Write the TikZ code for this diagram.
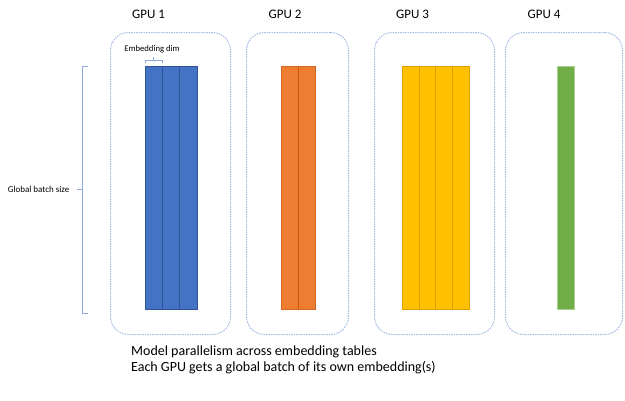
\documentclass[tikz,border=0pt]{standalone}
\usepackage{fontspec}
\setmainfont{Carlito}
\definecolor{dashblue}{HTML}{A4BCE4}
\definecolor{cblue}{HTML}{4472C4}
\definecolor{dblue}{HTML}{2F5597}
\definecolor{corange}{HTML}{ED7D31}
\definecolor{dorange}{HTML}{C55A11}
\definecolor{cyellow}{HTML}{FFC000}
\definecolor{dyellow}{HTML}{D9A000}
\definecolor{cgreen}{HTML}{70AD47}
\definecolor{dgreen}{HTML}{A9D18E}
\definecolor{bracecol}{HTML}{8FAADC}
\begin{document}
\begin{tikzpicture}[x=1pt,y=-1pt,
  gpubox/.style={draw=dashblue, line width=1pt, dash pattern=on 1.5pt off 1pt, rounded corners=18pt, inner sep=0pt, anchor=north west},
  col/.style={inner sep=0pt, anchor=north west, minimum width=#1, minimum height=243pt},
  gpulabel/.style={font=\fontsize{13}{15}\selectfont, inner sep=0pt},
  small/.style={font=\fontsize{9}{10}\selectfont, inner sep=0pt},
  bracestyle/.style={draw=bracecol, line width=0.8pt}]
\useasboundingbox (0,0) rectangle (625,400);
% GPU boxes
\node[gpubox, minimum width=120pt, minimum height=302pt] (b1) at (110,32) {};
\node[gpubox, minimum width=102pt, minimum height=302pt] (b2) at (246,32) {};
\node[gpubox, minimum width=120pt, minimum height=302pt] (b3) at (374,32) {};
\node[gpubox, minimum width=117pt, minimum height=302pt] (b4) at (505,32) {};
% labels
\node[gpulabel] (l1) at (148.5,14) {GPU 1};
\node[gpulabel] (l2) at (285,14) {GPU 2};
\node[gpulabel] (l3) at (412.5,14) {GPU 3};
\node[gpulabel] (l4) at (544,14) {GPU 4};
% blue columns
\node[col=52pt, fill=cblue, draw=dblue, line width=0.5pt] (c1) at (145,66) {};
\draw[dblue, line width=0.6pt] (162,66) -- (162,309) (179.5,66) -- (179.5,309);
% orange
\node[col=34pt, fill=corange, draw=dorange!60!corange, line width=0.5pt] (c2) at (281,66) {};
\draw[dorange, line width=0.6pt] (298,66) -- (298,309);
% yellow
\node[col=67pt, fill=cyellow, draw=dyellow, line width=0.5pt] (c3) at (402,66) {};
\draw[dyellow, line width=0.6pt] (419,66) -- (419,309) (435.5,66) -- (435.5,309) (452,66) -- (452,309);
% green
\node[col=17pt, fill=cgreen, draw=dgreen, line width=0.5pt] (c4) at (557,66) {};
% embedding dim brace
\node[small, font=\fontsize{8.7}{10}\selectfont] (ed) at (152,49) {Embedding dim};
\coordinate (e1) at (145,63);
\coordinate (e2) at (162,63);
\coordinate (em) at (153.5,56.5);
\draw[bracestyle] (e1) -- (145,60) -- (162,60) -- (e2);
\draw[bracestyle] (153.5,60) -- (em);
% global batch size brace
\node[small, anchor=east] (gb) at (69.5,189) {Global batch size};
\coordinate (g1) at (88,66);
\coordinate (g2) at (88,313);
\coordinate (gm) at (77,189);
\draw[bracestyle] (g1) -- (82,66) -- (82,313) -- (g2);
\draw[bracestyle] (82,189) -- (gm);
% bottom text
\node[anchor=north west, inner sep=0pt, align=left, font=\fontsize{14}{16}\selectfont] (txt) at (131,346)
 {Model parallelism across embedding tables\\Each GPU gets a global batch of its own embedding(s)};
\end{tikzpicture}
\end{document}
